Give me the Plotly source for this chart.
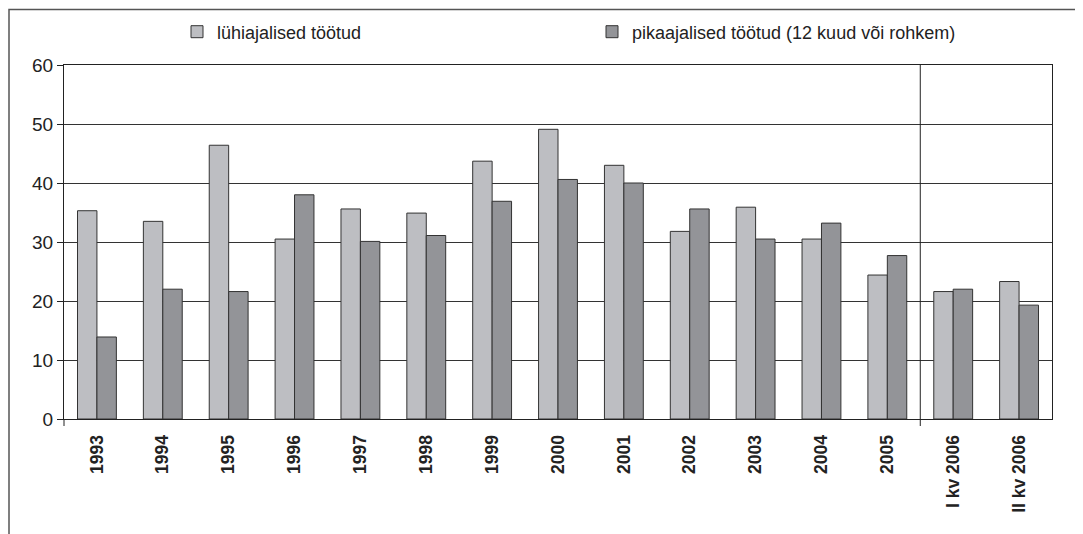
import plotly.graph_objects as go

categories = ["1993", "1994", "1995", "1996", "1997", "1998", "1999", "2000",
              "2001", "2002", "2003", "2004", "2005", "I kv 2006", "II kv 2006"]
short_term = [35.3, 33.5, 46.4, 30.5, 35.6, 34.9, 43.7, 49.1,
              43.0, 31.8, 35.9, 30.5, 24.4, 21.6, 23.3]
long_term = [13.9, 22.0, 21.6, 38.0, 30.1, 31.1, 36.9, 40.6,
             40.0, 35.6, 30.5, 33.2, 27.7, 22.0, 19.3]
series_names = ["lühiajalised töötud", "pikaajalised töötud (12 kuud või rohkem)"]
y_ticks = [0, 10, 20, 30, 40, 50, 60]

# page body has an 8px margin; work in page pixels and shift
OFF = 8
W, H = 1083 - OFF, 534 - OFF
L, R, T, B = 64 - OFF, 1052 - OFF, 65 - OFF, 419 - OFF


def px_x(p):
    return (p - OFF - L) / (R - L)


def px_y(p):
    return (B - (p - OFF)) / (B - T)


fig = go.Figure()
fig.add_trace(go.Bar(x=categories, y=short_term, name=series_names[0],
                     marker=dict(color="#BDBEC2", line=dict(color="#333333", width=1))))
fig.add_trace(go.Bar(x=categories, y=long_term, name=series_names[1],
                     marker=dict(color="#939498", line=dict(color="#333333", width=1))))

font_family = "Liberation Sans, Arial, sans-serif"

fig.update_layout(
    width=W, height=H,
    margin=dict(l=L, r=W - R, t=T, b=H - B, autoexpand=False),
    paper_bgcolor="white", plot_bgcolor="white",
    barmode="group", bargap=0.41, bargroupgap=0,
    font=dict(family=font_family, size=18, color="#222222"),
    showlegend=True,
    legend=dict(orientation="h", x=px_x(177), y=px_y(32), xanchor="left", yanchor="middle",
                entrywidth=370, entrywidthmode="pixels",
                font=dict(size=18, family=font_family, color="#222222"),
                bgcolor="rgba(0,0,0,0)", traceorder="normal"),
    xaxis=dict(type="category", tickangle=-90, showline=True, linecolor="#222222", linewidth=1,
               mirror=True, ticks="", showgrid=False, ticklabelstandoff=8,
               tickfont=dict(size=17.5, family=font_family, color="#222222", weight="bold")),
    yaxis=dict(range=[0, 60], tickvals=y_ticks, showline=True, linecolor="#222222", linewidth=1,
               mirror=True, ticks="outside", ticklen=6, tickcolor="#222222",
               showgrid=True, gridcolor="#333333", gridwidth=1, zeroline=False,
               tickfont=dict(size=19, family=font_family, color="#222222")),
)

# outer frame (cropped at right and bottom in the reference)
fig.add_shape(type="rect", xref="paper", yref="paper",
              x0=px_x(9), x1=px_x(1095), y0=px_y(545), y1=px_y(9.5),
              line=dict(color="#555555", width=1.5), fillcolor="rgba(0,0,0,0)", layer="below")
# separator between annual and quarterly data
fig.add_shape(type="line", xref="x", yref="paper", x0=12.5, x1=12.5,
              y0=px_y(426), y1=1, line=dict(color="#222222", width=1))
# left category tick below axis
fig.add_shape(type="line", xref="paper", yref="paper", x0=0, x1=0,
              y0=px_y(426), y1=0, line=dict(color="#222222", width=1))

fig.write_html("out.html")
